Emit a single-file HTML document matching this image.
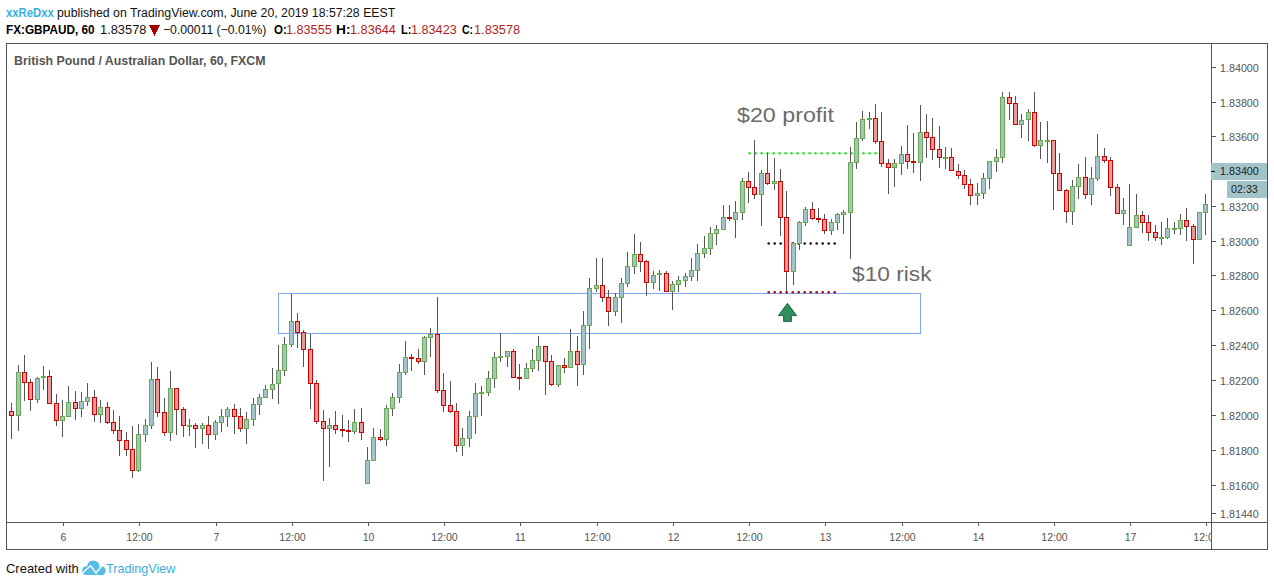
<!DOCTYPE html>
<html><head><meta charset="utf-8"><style>
html,body{margin:0;padding:0;background:#fff;}
body{width:1274px;height:586px;position:relative;overflow:hidden;font-family:"Liberation Sans", sans-serif;}
.t{position:absolute;white-space:nowrap;line-height:1;transform-origin:0 0;}
.tl{position:absolute;width:60px;text-align:center;font-size:10.5px;line-height:1;color:#555;white-space:nowrap;}
#tclip{position:absolute;left:0;top:0;width:1211px;height:586px;overflow:hidden;}
svg{position:absolute;left:0;top:0;}
</style></head><body>
<svg width="1274" height="586" viewBox="0 0 1274 586" shape-rendering="crispEdges">
<rect x="278.5" y="293.5" width="642" height="40" fill="none" stroke="#7aa7ee" stroke-width="1"/>
<g fill="#14ee14" shape-rendering="geometricPrecision"><circle cx="749.55" cy="153.3" r="1.2"/><circle cx="755.55" cy="153.3" r="1.2"/><circle cx="761.55" cy="153.3" r="1.2"/><circle cx="767.55" cy="153.3" r="1.2"/><circle cx="773.55" cy="153.3" r="1.2"/><circle cx="779.55" cy="153.3" r="1.2"/><circle cx="785.55" cy="153.3" r="1.2"/><circle cx="791.55" cy="153.3" r="1.2"/><circle cx="797.55" cy="153.3" r="1.2"/><circle cx="803.55" cy="153.3" r="1.2"/><circle cx="809.55" cy="153.3" r="1.2"/><circle cx="815.55" cy="153.3" r="1.2"/><circle cx="821.55" cy="153.3" r="1.2"/><circle cx="827.55" cy="153.3" r="1.2"/><circle cx="833.55" cy="153.3" r="1.2"/><circle cx="839.55" cy="153.3" r="1.2"/><circle cx="845.55" cy="153.3" r="1.2"/><circle cx="851.55" cy="153.3" r="1.2"/><circle cx="857.55" cy="153.3" r="1.2"/><circle cx="863.55" cy="153.3" r="1.2"/><circle cx="869.55" cy="153.3" r="1.2"/><circle cx="875.55" cy="153.3" r="1.2"/></g>
<g fill="#111111" shape-rendering="geometricPrecision"><circle cx="768.70" cy="243.5" r="1.3"/><circle cx="774.70" cy="243.5" r="1.3"/><circle cx="780.70" cy="243.5" r="1.3"/><circle cx="786.70" cy="243.5" r="1.3"/><circle cx="792.70" cy="243.5" r="1.3"/><circle cx="798.70" cy="243.5" r="1.3"/><circle cx="804.70" cy="243.5" r="1.3"/><circle cx="810.70" cy="243.5" r="1.3"/><circle cx="816.70" cy="243.5" r="1.3"/><circle cx="822.70" cy="243.5" r="1.3"/><circle cx="828.70" cy="243.5" r="1.3"/><circle cx="834.70" cy="243.5" r="1.3"/></g>
<g fill="#555555"><rect x="11" y="403" width="1" height="36"/><rect x="18" y="365" width="1" height="66"/><rect x="24" y="355" width="1" height="46"/><rect x="30" y="379" width="1" height="32"/><rect x="37" y="377" width="1" height="26"/><rect x="43" y="366" width="1" height="24"/><rect x="49" y="370" width="1" height="34"/><rect x="56" y="394" width="1" height="32"/><rect x="62" y="400" width="1" height="37"/><rect x="68" y="386" width="1" height="31"/><rect x="75" y="391" width="1" height="29"/><rect x="81" y="392" width="1" height="25"/><rect x="87" y="383" width="1" height="23"/><rect x="94" y="390" width="1" height="32"/><rect x="100" y="400" width="1" height="23"/><rect x="107" y="402" width="1" height="22"/><rect x="113" y="410" width="1" height="24"/><rect x="119" y="416" width="1" height="40"/><rect x="126" y="432" width="1" height="24"/><rect x="132" y="426" width="1" height="52"/><rect x="138" y="424" width="1" height="48"/><rect x="145" y="419" width="1" height="23"/><rect x="151" y="362" width="1" height="67"/><rect x="157" y="367" width="1" height="50"/><rect x="164" y="398" width="1" height="38"/><rect x="170" y="371" width="1" height="70"/><rect x="176" y="388" width="1" height="47"/><rect x="183" y="407" width="1" height="30"/><rect x="189" y="419" width="1" height="17"/><rect x="195" y="423" width="1" height="25"/><rect x="202" y="423" width="1" height="21"/><rect x="208" y="416" width="1" height="33"/><rect x="215" y="420" width="1" height="20"/><rect x="221" y="409" width="1" height="23"/><rect x="227" y="407" width="1" height="20"/><rect x="234" y="404" width="1" height="30"/><rect x="240" y="408" width="1" height="24"/><rect x="246" y="412" width="1" height="32"/><rect x="253" y="398" width="1" height="28"/><rect x="259" y="394" width="1" height="21"/><rect x="265" y="385" width="1" height="13"/><rect x="272" y="368" width="1" height="31"/><rect x="278" y="345" width="1" height="59"/><rect x="284" y="337" width="1" height="39"/><rect x="291" y="294" width="1" height="53"/><rect x="297" y="313" width="1" height="35"/><rect x="303" y="330" width="1" height="37"/><rect x="310" y="334" width="1" height="75"/><rect x="316" y="380" width="1" height="44"/><rect x="323" y="410" width="1" height="71"/><rect x="329" y="418" width="1" height="49"/><rect x="335" y="411" width="1" height="23"/><rect x="342" y="415" width="1" height="22"/><rect x="348" y="420" width="1" height="22"/><rect x="354" y="409" width="1" height="25"/><rect x="361" y="408" width="1" height="32"/><rect x="367" y="447" width="1" height="37"/><rect x="373" y="428" width="1" height="33"/><rect x="380" y="429" width="1" height="12"/><rect x="386" y="405" width="1" height="41"/><rect x="392" y="393" width="1" height="23"/><rect x="399" y="364" width="1" height="39"/><rect x="405" y="341" width="1" height="34"/><rect x="411" y="354" width="1" height="17"/><rect x="418" y="349" width="1" height="15"/><rect x="424" y="336" width="1" height="39"/><rect x="430" y="328" width="1" height="29"/><rect x="437" y="297" width="1" height="96"/><rect x="443" y="373" width="1" height="39"/><rect x="450" y="381" width="1" height="32"/><rect x="456" y="403" width="1" height="49"/><rect x="462" y="428" width="1" height="28"/><rect x="469" y="411" width="1" height="36"/><rect x="475" y="383" width="1" height="51"/><rect x="481" y="386" width="1" height="30"/><rect x="488" y="371" width="1" height="25"/><rect x="494" y="352" width="1" height="36"/><rect x="500" y="333" width="1" height="29"/><rect x="507" y="351" width="1" height="16"/><rect x="513" y="349" width="1" height="29"/><rect x="519" y="364" width="1" height="26"/><rect x="526" y="363" width="1" height="16"/><rect x="532" y="349" width="1" height="23"/><rect x="538" y="336" width="1" height="35"/><rect x="545" y="346" width="1" height="49"/><rect x="551" y="355" width="1" height="31"/><rect x="558" y="365" width="1" height="22"/><rect x="564" y="358" width="1" height="15"/><rect x="570" y="329" width="1" height="39"/><rect x="577" y="336" width="1" height="50"/><rect x="583" y="311" width="1" height="64"/><rect x="589" y="278" width="1" height="71"/><rect x="596" y="258" width="1" height="34"/><rect x="602" y="258" width="1" height="44"/><rect x="608" y="290" width="1" height="36"/><rect x="615" y="293" width="1" height="23"/><rect x="621" y="278" width="1" height="45"/><rect x="627" y="252" width="1" height="35"/><rect x="634" y="234" width="1" height="40"/><rect x="640" y="242" width="1" height="30"/><rect x="646" y="260" width="1" height="36"/><rect x="653" y="271" width="1" height="18"/><rect x="659" y="270" width="1" height="21"/><rect x="666" y="271" width="1" height="21"/><rect x="672" y="281" width="1" height="29"/><rect x="678" y="276" width="1" height="16"/><rect x="685" y="273" width="1" height="14"/><rect x="691" y="258" width="1" height="23"/><rect x="697" y="244" width="1" height="37"/><rect x="704" y="236" width="1" height="22"/><rect x="710" y="227" width="1" height="28"/><rect x="716" y="225" width="1" height="20"/><rect x="723" y="205" width="1" height="25"/><rect x="729" y="205" width="1" height="16"/><rect x="735" y="201" width="1" height="37"/><rect x="742" y="178" width="1" height="42"/><rect x="748" y="172" width="1" height="31"/><rect x="754" y="140" width="1" height="59"/><rect x="761" y="170" width="1" height="56"/><rect x="767" y="153" width="1" height="32"/><rect x="774" y="158" width="1" height="32"/><rect x="780" y="169" width="1" height="67"/><rect x="786" y="191" width="1" height="102"/><rect x="793" y="242" width="1" height="43"/><rect x="799" y="221" width="1" height="29"/><rect x="805" y="207" width="1" height="19"/><rect x="812" y="202" width="1" height="18"/><rect x="818" y="208" width="1" height="15"/><rect x="824" y="214" width="1" height="20"/><rect x="831" y="219" width="1" height="16"/><rect x="837" y="213" width="1" height="17"/><rect x="843" y="210" width="1" height="24"/><rect x="850" y="147" width="1" height="112"/><rect x="856" y="122" width="1" height="47"/><rect x="862" y="111" width="1" height="30"/><rect x="869" y="112" width="1" height="17"/><rect x="875" y="104" width="1" height="40"/><rect x="881" y="112" width="1" height="55"/><rect x="888" y="159" width="1" height="35"/><rect x="894" y="159" width="1" height="28"/><rect x="901" y="146" width="1" height="29"/><rect x="907" y="125" width="1" height="44"/><rect x="913" y="133" width="1" height="40"/><rect x="920" y="105" width="1" height="76"/><rect x="926" y="114" width="1" height="44"/><rect x="932" y="118" width="1" height="42"/><rect x="939" y="126" width="1" height="42"/><rect x="945" y="147" width="1" height="22"/><rect x="951" y="148" width="1" height="23"/><rect x="958" y="164" width="1" height="15"/><rect x="964" y="170" width="1" height="19"/><rect x="970" y="179" width="1" height="26"/><rect x="977" y="183" width="1" height="22"/><rect x="983" y="173" width="1" height="26"/><rect x="989" y="161" width="1" height="28"/><rect x="996" y="149" width="1" height="23"/><rect x="1002" y="92" width="1" height="71"/><rect x="1009" y="92" width="1" height="28"/><rect x="1015" y="96" width="1" height="29"/><rect x="1021" y="114" width="1" height="24"/><rect x="1028" y="109" width="1" height="32"/><rect x="1034" y="92" width="1" height="55"/><rect x="1040" y="122" width="1" height="37"/><rect x="1047" y="121" width="1" height="42"/><rect x="1053" y="140" width="1" height="70"/><rect x="1059" y="153" width="1" height="38"/><rect x="1066" y="189" width="1" height="34"/><rect x="1072" y="180" width="1" height="45"/><rect x="1078" y="164" width="1" height="35"/><rect x="1085" y="157" width="1" height="42"/><rect x="1091" y="167" width="1" height="38"/><rect x="1097" y="134" width="1" height="47"/><rect x="1104" y="148" width="1" height="15"/><rect x="1110" y="157" width="1" height="39"/><rect x="1117" y="184" width="1" height="30"/><rect x="1123" y="198" width="1" height="27"/><rect x="1129" y="184" width="1" height="62"/><rect x="1136" y="194" width="1" height="34"/><rect x="1142" y="211" width="1" height="22"/><rect x="1148" y="215" width="1" height="26"/><rect x="1155" y="225" width="1" height="16"/><rect x="1161" y="222" width="1" height="23"/><rect x="1167" y="218" width="1" height="21"/><rect x="1174" y="222" width="1" height="12"/><rect x="1180" y="214" width="1" height="21"/><rect x="1186" y="208" width="1" height="33"/><rect x="1193" y="224" width="1" height="40"/><rect x="1199" y="212" width="1" height="28"/><rect x="1205" y="194" width="1" height="41"/></g>
<rect x="9" y="411" width="5" height="5" fill="#cc0000"/>
<rect x="10" y="412" width="3" height="3" fill="#ea9999"/>
<rect x="16" y="372" width="5" height="44" fill="#6aa84f"/>
<rect x="17" y="373" width="3" height="42" fill="#a2c4c9"/>
<rect x="22" y="372" width="5" height="11" fill="#cc0000"/>
<rect x="23" y="373" width="3" height="9" fill="#ea9999"/>
<rect x="28" y="382" width="5" height="18" fill="#cc0000"/>
<rect x="29" y="383" width="3" height="16" fill="#ea9999"/>
<rect x="35" y="378" width="5" height="22" fill="#6aa84f"/>
<rect x="36" y="379" width="3" height="20" fill="#a2c4c9"/>
<rect x="41" y="376" width="5" height="2" fill="#6aa84f"/>
<rect x="47" y="376" width="5" height="28" fill="#cc0000"/>
<rect x="48" y="377" width="3" height="26" fill="#ea9999"/>
<rect x="54" y="403" width="5" height="18" fill="#cc0000"/>
<rect x="55" y="404" width="3" height="16" fill="#ea9999"/>
<rect x="60" y="416" width="5" height="5" fill="#6aa84f"/>
<rect x="61" y="417" width="3" height="3" fill="#a2c4c9"/>
<rect x="66" y="402" width="5" height="15" fill="#6aa84f"/>
<rect x="67" y="403" width="3" height="13" fill="#a2c4c9"/>
<rect x="73" y="402" width="5" height="7" fill="#cc0000"/>
<rect x="74" y="403" width="3" height="5" fill="#ea9999"/>
<rect x="79" y="401" width="5" height="8" fill="#6aa84f"/>
<rect x="80" y="402" width="3" height="6" fill="#a2c4c9"/>
<rect x="85" y="397" width="5" height="5" fill="#6aa84f"/>
<rect x="86" y="398" width="3" height="3" fill="#a2c4c9"/>
<rect x="92" y="397" width="5" height="18" fill="#cc0000"/>
<rect x="93" y="398" width="3" height="16" fill="#ea9999"/>
<rect x="98" y="407" width="5" height="8" fill="#6aa84f"/>
<rect x="99" y="408" width="3" height="6" fill="#a2c4c9"/>
<rect x="105" y="407" width="5" height="16" fill="#cc0000"/>
<rect x="106" y="408" width="3" height="14" fill="#ea9999"/>
<rect x="111" y="422" width="5" height="9" fill="#cc0000"/>
<rect x="112" y="423" width="3" height="7" fill="#ea9999"/>
<rect x="117" y="430" width="5" height="11" fill="#cc0000"/>
<rect x="118" y="431" width="3" height="9" fill="#ea9999"/>
<rect x="124" y="440" width="5" height="10" fill="#cc0000"/>
<rect x="125" y="441" width="3" height="8" fill="#ea9999"/>
<rect x="130" y="449" width="5" height="22" fill="#cc0000"/>
<rect x="131" y="450" width="3" height="20" fill="#ea9999"/>
<rect x="136" y="434" width="5" height="37" fill="#6aa84f"/>
<rect x="137" y="435" width="3" height="35" fill="#a2c4c9"/>
<rect x="143" y="425" width="5" height="10" fill="#6aa84f"/>
<rect x="144" y="426" width="3" height="8" fill="#a2c4c9"/>
<rect x="149" y="379" width="5" height="47" fill="#6aa84f"/>
<rect x="150" y="380" width="3" height="45" fill="#a2c4c9"/>
<rect x="155" y="379" width="5" height="34" fill="#cc0000"/>
<rect x="156" y="380" width="3" height="32" fill="#ea9999"/>
<rect x="162" y="412" width="5" height="21" fill="#cc0000"/>
<rect x="163" y="413" width="3" height="19" fill="#ea9999"/>
<rect x="168" y="388" width="5" height="45" fill="#6aa84f"/>
<rect x="169" y="389" width="3" height="43" fill="#a2c4c9"/>
<rect x="174" y="388" width="5" height="22" fill="#cc0000"/>
<rect x="175" y="389" width="3" height="20" fill="#ea9999"/>
<rect x="181" y="409" width="5" height="17" fill="#cc0000"/>
<rect x="182" y="410" width="3" height="15" fill="#ea9999"/>
<rect x="187" y="425" width="5" height="2" fill="#6aa84f"/>
<rect x="193" y="425" width="5" height="4" fill="#cc0000"/>
<rect x="194" y="426" width="3" height="2" fill="#ea9999"/>
<rect x="200" y="425" width="5" height="4" fill="#6aa84f"/>
<rect x="201" y="426" width="3" height="2" fill="#a2c4c9"/>
<rect x="206" y="425" width="5" height="10" fill="#cc0000"/>
<rect x="207" y="426" width="3" height="8" fill="#ea9999"/>
<rect x="213" y="422" width="5" height="13" fill="#6aa84f"/>
<rect x="214" y="423" width="3" height="11" fill="#a2c4c9"/>
<rect x="219" y="416" width="5" height="7" fill="#6aa84f"/>
<rect x="220" y="417" width="3" height="5" fill="#a2c4c9"/>
<rect x="225" y="409" width="5" height="8" fill="#6aa84f"/>
<rect x="226" y="410" width="3" height="6" fill="#a2c4c9"/>
<rect x="232" y="409" width="5" height="8" fill="#cc0000"/>
<rect x="233" y="410" width="3" height="6" fill="#ea9999"/>
<rect x="238" y="416" width="5" height="13" fill="#cc0000"/>
<rect x="239" y="417" width="3" height="11" fill="#ea9999"/>
<rect x="244" y="419" width="5" height="10" fill="#6aa84f"/>
<rect x="245" y="420" width="3" height="8" fill="#a2c4c9"/>
<rect x="251" y="404" width="5" height="16" fill="#6aa84f"/>
<rect x="252" y="405" width="3" height="14" fill="#a2c4c9"/>
<rect x="257" y="397" width="5" height="8" fill="#6aa84f"/>
<rect x="258" y="398" width="3" height="6" fill="#a2c4c9"/>
<rect x="263" y="389" width="5" height="9" fill="#6aa84f"/>
<rect x="264" y="390" width="3" height="7" fill="#a2c4c9"/>
<rect x="270" y="384" width="5" height="6" fill="#6aa84f"/>
<rect x="271" y="385" width="3" height="4" fill="#a2c4c9"/>
<rect x="276" y="370" width="5" height="14" fill="#6aa84f"/>
<rect x="277" y="371" width="3" height="12" fill="#a2c4c9"/>
<rect x="282" y="344" width="5" height="27" fill="#6aa84f"/>
<rect x="283" y="345" width="3" height="25" fill="#a2c4c9"/>
<rect x="289" y="321" width="5" height="24" fill="#6aa84f"/>
<rect x="290" y="322" width="3" height="22" fill="#a2c4c9"/>
<rect x="295" y="321" width="5" height="12" fill="#cc0000"/>
<rect x="296" y="322" width="3" height="10" fill="#ea9999"/>
<rect x="301" y="332" width="5" height="18" fill="#cc0000"/>
<rect x="302" y="333" width="3" height="16" fill="#ea9999"/>
<rect x="308" y="349" width="5" height="35" fill="#cc0000"/>
<rect x="309" y="350" width="3" height="33" fill="#ea9999"/>
<rect x="314" y="383" width="5" height="39" fill="#cc0000"/>
<rect x="315" y="384" width="3" height="37" fill="#ea9999"/>
<rect x="321" y="421" width="5" height="8" fill="#cc0000"/>
<rect x="322" y="422" width="3" height="6" fill="#ea9999"/>
<rect x="327" y="425" width="5" height="4" fill="#6aa84f"/>
<rect x="328" y="426" width="3" height="2" fill="#a2c4c9"/>
<rect x="333" y="425" width="5" height="5" fill="#cc0000"/>
<rect x="334" y="426" width="3" height="3" fill="#ea9999"/>
<rect x="340" y="429" width="5" height="2" fill="#cc0000"/>
<rect x="346" y="430" width="5" height="2" fill="#cc0000"/>
<rect x="352" y="422" width="5" height="10" fill="#6aa84f"/>
<rect x="353" y="423" width="3" height="8" fill="#a2c4c9"/>
<rect x="359" y="422" width="5" height="11" fill="#cc0000"/>
<rect x="360" y="423" width="3" height="9" fill="#ea9999"/>
<rect x="365" y="460" width="5" height="24" fill="#6aa84f"/>
<rect x="366" y="461" width="3" height="22" fill="#a2c4c9"/>
<rect x="371" y="437" width="5" height="24" fill="#6aa84f"/>
<rect x="372" y="438" width="3" height="22" fill="#a2c4c9"/>
<rect x="378" y="437" width="5" height="3" fill="#cc0000"/>
<rect x="379" y="438" width="3" height="1" fill="#ea9999"/>
<rect x="384" y="408" width="5" height="32" fill="#6aa84f"/>
<rect x="385" y="409" width="3" height="30" fill="#a2c4c9"/>
<rect x="390" y="397" width="5" height="12" fill="#6aa84f"/>
<rect x="391" y="398" width="3" height="10" fill="#a2c4c9"/>
<rect x="397" y="372" width="5" height="26" fill="#6aa84f"/>
<rect x="398" y="373" width="3" height="24" fill="#a2c4c9"/>
<rect x="403" y="357" width="5" height="16" fill="#6aa84f"/>
<rect x="404" y="358" width="3" height="14" fill="#a2c4c9"/>
<rect x="409" y="357" width="5" height="2" fill="#cc0000"/>
<rect x="416" y="358" width="5" height="4" fill="#cc0000"/>
<rect x="417" y="359" width="3" height="2" fill="#ea9999"/>
<rect x="422" y="337" width="5" height="25" fill="#6aa84f"/>
<rect x="423" y="338" width="3" height="23" fill="#a2c4c9"/>
<rect x="428" y="334" width="5" height="4" fill="#6aa84f"/>
<rect x="429" y="335" width="3" height="2" fill="#a2c4c9"/>
<rect x="435" y="334" width="5" height="57" fill="#cc0000"/>
<rect x="436" y="335" width="3" height="55" fill="#ea9999"/>
<rect x="441" y="390" width="5" height="16" fill="#cc0000"/>
<rect x="442" y="391" width="3" height="14" fill="#ea9999"/>
<rect x="448" y="405" width="5" height="7" fill="#cc0000"/>
<rect x="449" y="406" width="3" height="5" fill="#ea9999"/>
<rect x="454" y="411" width="5" height="35" fill="#cc0000"/>
<rect x="455" y="412" width="3" height="33" fill="#ea9999"/>
<rect x="460" y="438" width="5" height="8" fill="#6aa84f"/>
<rect x="461" y="439" width="3" height="6" fill="#a2c4c9"/>
<rect x="467" y="416" width="5" height="23" fill="#6aa84f"/>
<rect x="468" y="417" width="3" height="21" fill="#a2c4c9"/>
<rect x="473" y="393" width="5" height="24" fill="#6aa84f"/>
<rect x="474" y="394" width="3" height="22" fill="#a2c4c9"/>
<rect x="479" y="392" width="5" height="2" fill="#6aa84f"/>
<rect x="486" y="378" width="5" height="15" fill="#6aa84f"/>
<rect x="487" y="379" width="3" height="13" fill="#a2c4c9"/>
<rect x="492" y="357" width="5" height="22" fill="#6aa84f"/>
<rect x="493" y="358" width="3" height="20" fill="#a2c4c9"/>
<rect x="498" y="356" width="5" height="2" fill="#6aa84f"/>
<rect x="505" y="351" width="5" height="6" fill="#6aa84f"/>
<rect x="506" y="352" width="3" height="4" fill="#a2c4c9"/>
<rect x="511" y="351" width="5" height="27" fill="#cc0000"/>
<rect x="512" y="352" width="3" height="25" fill="#ea9999"/>
<rect x="517" y="377" width="5" height="2" fill="#cc0000"/>
<rect x="524" y="368" width="5" height="11" fill="#6aa84f"/>
<rect x="525" y="369" width="3" height="9" fill="#a2c4c9"/>
<rect x="530" y="360" width="5" height="9" fill="#6aa84f"/>
<rect x="531" y="361" width="3" height="7" fill="#a2c4c9"/>
<rect x="536" y="346" width="5" height="15" fill="#6aa84f"/>
<rect x="537" y="347" width="3" height="13" fill="#a2c4c9"/>
<rect x="543" y="346" width="5" height="16" fill="#cc0000"/>
<rect x="544" y="347" width="3" height="14" fill="#ea9999"/>
<rect x="549" y="361" width="5" height="24" fill="#cc0000"/>
<rect x="550" y="362" width="3" height="22" fill="#ea9999"/>
<rect x="556" y="365" width="5" height="20" fill="#6aa84f"/>
<rect x="557" y="366" width="3" height="18" fill="#a2c4c9"/>
<rect x="562" y="365" width="5" height="3" fill="#cc0000"/>
<rect x="563" y="366" width="3" height="1" fill="#ea9999"/>
<rect x="568" y="351" width="5" height="17" fill="#6aa84f"/>
<rect x="569" y="352" width="3" height="15" fill="#a2c4c9"/>
<rect x="575" y="351" width="5" height="14" fill="#cc0000"/>
<rect x="576" y="352" width="3" height="12" fill="#ea9999"/>
<rect x="581" y="325" width="5" height="40" fill="#6aa84f"/>
<rect x="582" y="326" width="3" height="38" fill="#a2c4c9"/>
<rect x="587" y="288" width="5" height="38" fill="#6aa84f"/>
<rect x="588" y="289" width="3" height="36" fill="#a2c4c9"/>
<rect x="594" y="285" width="5" height="4" fill="#6aa84f"/>
<rect x="595" y="286" width="3" height="2" fill="#a2c4c9"/>
<rect x="600" y="285" width="5" height="13" fill="#cc0000"/>
<rect x="601" y="286" width="3" height="11" fill="#ea9999"/>
<rect x="606" y="297" width="5" height="15" fill="#cc0000"/>
<rect x="607" y="298" width="3" height="13" fill="#ea9999"/>
<rect x="613" y="297" width="5" height="15" fill="#6aa84f"/>
<rect x="614" y="298" width="3" height="13" fill="#a2c4c9"/>
<rect x="619" y="283" width="5" height="15" fill="#6aa84f"/>
<rect x="620" y="284" width="3" height="13" fill="#a2c4c9"/>
<rect x="625" y="266" width="5" height="18" fill="#6aa84f"/>
<rect x="626" y="267" width="3" height="16" fill="#a2c4c9"/>
<rect x="632" y="254" width="5" height="13" fill="#6aa84f"/>
<rect x="633" y="255" width="3" height="11" fill="#a2c4c9"/>
<rect x="638" y="254" width="5" height="8" fill="#cc0000"/>
<rect x="639" y="255" width="3" height="6" fill="#ea9999"/>
<rect x="644" y="261" width="5" height="22" fill="#cc0000"/>
<rect x="645" y="262" width="3" height="20" fill="#ea9999"/>
<rect x="651" y="275" width="5" height="8" fill="#6aa84f"/>
<rect x="652" y="276" width="3" height="6" fill="#a2c4c9"/>
<rect x="657" y="273" width="5" height="2" fill="#6aa84f"/>
<rect x="664" y="273" width="5" height="19" fill="#cc0000"/>
<rect x="665" y="274" width="3" height="17" fill="#ea9999"/>
<rect x="670" y="284" width="5" height="8" fill="#6aa84f"/>
<rect x="671" y="285" width="3" height="6" fill="#a2c4c9"/>
<rect x="676" y="280" width="5" height="5" fill="#6aa84f"/>
<rect x="677" y="281" width="3" height="3" fill="#a2c4c9"/>
<rect x="683" y="276" width="5" height="5" fill="#6aa84f"/>
<rect x="684" y="277" width="3" height="3" fill="#a2c4c9"/>
<rect x="689" y="270" width="5" height="7" fill="#6aa84f"/>
<rect x="690" y="271" width="3" height="5" fill="#a2c4c9"/>
<rect x="695" y="253" width="5" height="18" fill="#6aa84f"/>
<rect x="696" y="254" width="3" height="16" fill="#a2c4c9"/>
<rect x="702" y="248" width="5" height="6" fill="#6aa84f"/>
<rect x="703" y="249" width="3" height="4" fill="#a2c4c9"/>
<rect x="708" y="233" width="5" height="16" fill="#6aa84f"/>
<rect x="709" y="234" width="3" height="14" fill="#a2c4c9"/>
<rect x="714" y="229" width="5" height="5" fill="#6aa84f"/>
<rect x="715" y="230" width="3" height="3" fill="#a2c4c9"/>
<rect x="721" y="217" width="5" height="13" fill="#6aa84f"/>
<rect x="722" y="218" width="3" height="11" fill="#a2c4c9"/>
<rect x="727" y="217" width="5" height="2" fill="#cc0000"/>
<rect x="733" y="212" width="5" height="8" fill="#6aa84f"/>
<rect x="734" y="213" width="3" height="6" fill="#a2c4c9"/>
<rect x="740" y="181" width="5" height="32" fill="#6aa84f"/>
<rect x="741" y="182" width="3" height="30" fill="#a2c4c9"/>
<rect x="746" y="181" width="5" height="7" fill="#cc0000"/>
<rect x="747" y="182" width="3" height="5" fill="#ea9999"/>
<rect x="752" y="187" width="5" height="8" fill="#cc0000"/>
<rect x="753" y="188" width="3" height="6" fill="#ea9999"/>
<rect x="759" y="173" width="5" height="22" fill="#6aa84f"/>
<rect x="760" y="174" width="3" height="20" fill="#a2c4c9"/>
<rect x="765" y="173" width="5" height="11" fill="#cc0000"/>
<rect x="766" y="174" width="3" height="9" fill="#ea9999"/>
<rect x="772" y="181" width="5" height="3" fill="#6aa84f"/>
<rect x="773" y="182" width="3" height="1" fill="#a2c4c9"/>
<rect x="778" y="181" width="5" height="37" fill="#cc0000"/>
<rect x="779" y="182" width="3" height="35" fill="#ea9999"/>
<rect x="784" y="217" width="5" height="55" fill="#cc0000"/>
<rect x="785" y="218" width="3" height="53" fill="#ea9999"/>
<rect x="791" y="243" width="5" height="29" fill="#6aa84f"/>
<rect x="792" y="244" width="3" height="27" fill="#a2c4c9"/>
<rect x="797" y="222" width="5" height="22" fill="#6aa84f"/>
<rect x="798" y="223" width="3" height="20" fill="#a2c4c9"/>
<rect x="803" y="209" width="5" height="14" fill="#6aa84f"/>
<rect x="804" y="210" width="3" height="12" fill="#a2c4c9"/>
<rect x="810" y="209" width="5" height="10" fill="#cc0000"/>
<rect x="811" y="210" width="3" height="8" fill="#ea9999"/>
<rect x="816" y="218" width="5" height="2" fill="#cc0000"/>
<rect x="822" y="219" width="5" height="12" fill="#cc0000"/>
<rect x="823" y="220" width="3" height="10" fill="#ea9999"/>
<rect x="829" y="222" width="5" height="9" fill="#6aa84f"/>
<rect x="830" y="223" width="3" height="7" fill="#a2c4c9"/>
<rect x="835" y="214" width="5" height="9" fill="#6aa84f"/>
<rect x="836" y="215" width="3" height="7" fill="#a2c4c9"/>
<rect x="841" y="212" width="5" height="3" fill="#6aa84f"/>
<rect x="842" y="213" width="3" height="1" fill="#a2c4c9"/>
<rect x="848" y="162" width="5" height="51" fill="#6aa84f"/>
<rect x="849" y="163" width="3" height="49" fill="#a2c4c9"/>
<rect x="854" y="138" width="5" height="25" fill="#6aa84f"/>
<rect x="855" y="139" width="3" height="23" fill="#a2c4c9"/>
<rect x="860" y="119" width="5" height="20" fill="#6aa84f"/>
<rect x="861" y="120" width="3" height="18" fill="#a2c4c9"/>
<rect x="867" y="118" width="5" height="2" fill="#6aa84f"/>
<rect x="873" y="118" width="5" height="24" fill="#cc0000"/>
<rect x="874" y="119" width="3" height="22" fill="#ea9999"/>
<rect x="879" y="141" width="5" height="23" fill="#cc0000"/>
<rect x="880" y="142" width="3" height="21" fill="#ea9999"/>
<rect x="886" y="163" width="5" height="5" fill="#cc0000"/>
<rect x="887" y="164" width="3" height="3" fill="#ea9999"/>
<rect x="892" y="163" width="5" height="5" fill="#6aa84f"/>
<rect x="893" y="164" width="3" height="3" fill="#a2c4c9"/>
<rect x="899" y="154" width="5" height="10" fill="#6aa84f"/>
<rect x="900" y="155" width="3" height="8" fill="#a2c4c9"/>
<rect x="905" y="154" width="5" height="8" fill="#cc0000"/>
<rect x="906" y="155" width="3" height="6" fill="#ea9999"/>
<rect x="911" y="161" width="5" height="2" fill="#cc0000"/>
<rect x="918" y="132" width="5" height="31" fill="#6aa84f"/>
<rect x="919" y="133" width="3" height="29" fill="#a2c4c9"/>
<rect x="924" y="132" width="5" height="6" fill="#cc0000"/>
<rect x="925" y="133" width="3" height="4" fill="#ea9999"/>
<rect x="930" y="137" width="5" height="13" fill="#cc0000"/>
<rect x="931" y="138" width="3" height="11" fill="#ea9999"/>
<rect x="937" y="149" width="5" height="9" fill="#cc0000"/>
<rect x="938" y="150" width="3" height="7" fill="#ea9999"/>
<rect x="943" y="157" width="5" height="2" fill="#6aa84f"/>
<rect x="949" y="157" width="5" height="14" fill="#cc0000"/>
<rect x="950" y="158" width="3" height="12" fill="#ea9999"/>
<rect x="956" y="171" width="5" height="5" fill="#cc0000"/>
<rect x="957" y="172" width="3" height="3" fill="#ea9999"/>
<rect x="962" y="175" width="5" height="10" fill="#cc0000"/>
<rect x="963" y="176" width="3" height="8" fill="#ea9999"/>
<rect x="968" y="184" width="5" height="12" fill="#cc0000"/>
<rect x="969" y="185" width="3" height="10" fill="#ea9999"/>
<rect x="975" y="193" width="5" height="3" fill="#6aa84f"/>
<rect x="976" y="194" width="3" height="1" fill="#a2c4c9"/>
<rect x="981" y="178" width="5" height="16" fill="#6aa84f"/>
<rect x="982" y="179" width="3" height="14" fill="#a2c4c9"/>
<rect x="987" y="161" width="5" height="18" fill="#6aa84f"/>
<rect x="988" y="162" width="3" height="16" fill="#a2c4c9"/>
<rect x="994" y="157" width="5" height="5" fill="#6aa84f"/>
<rect x="995" y="158" width="3" height="3" fill="#a2c4c9"/>
<rect x="1000" y="97" width="5" height="61" fill="#6aa84f"/>
<rect x="1001" y="98" width="3" height="59" fill="#a2c4c9"/>
<rect x="1007" y="97" width="5" height="7" fill="#cc0000"/>
<rect x="1008" y="98" width="3" height="5" fill="#ea9999"/>
<rect x="1013" y="103" width="5" height="22" fill="#cc0000"/>
<rect x="1014" y="104" width="3" height="20" fill="#ea9999"/>
<rect x="1019" y="120" width="5" height="5" fill="#6aa84f"/>
<rect x="1020" y="121" width="3" height="3" fill="#a2c4c9"/>
<rect x="1026" y="112" width="5" height="8" fill="#6aa84f"/>
<rect x="1027" y="113" width="3" height="6" fill="#a2c4c9"/>
<rect x="1032" y="112" width="5" height="34" fill="#cc0000"/>
<rect x="1033" y="113" width="3" height="32" fill="#ea9999"/>
<rect x="1038" y="140" width="5" height="6" fill="#6aa84f"/>
<rect x="1039" y="141" width="3" height="4" fill="#a2c4c9"/>
<rect x="1045" y="140" width="5" height="2" fill="#6aa84f"/>
<rect x="1051" y="140" width="5" height="34" fill="#cc0000"/>
<rect x="1052" y="141" width="3" height="32" fill="#ea9999"/>
<rect x="1057" y="173" width="5" height="18" fill="#cc0000"/>
<rect x="1058" y="174" width="3" height="16" fill="#ea9999"/>
<rect x="1064" y="190" width="5" height="22" fill="#cc0000"/>
<rect x="1065" y="191" width="3" height="20" fill="#ea9999"/>
<rect x="1070" y="186" width="5" height="26" fill="#6aa84f"/>
<rect x="1071" y="187" width="3" height="24" fill="#a2c4c9"/>
<rect x="1076" y="177" width="5" height="10" fill="#6aa84f"/>
<rect x="1077" y="178" width="3" height="8" fill="#a2c4c9"/>
<rect x="1083" y="177" width="5" height="18" fill="#cc0000"/>
<rect x="1084" y="178" width="3" height="16" fill="#ea9999"/>
<rect x="1089" y="178" width="5" height="17" fill="#6aa84f"/>
<rect x="1090" y="179" width="3" height="15" fill="#a2c4c9"/>
<rect x="1095" y="156" width="5" height="23" fill="#6aa84f"/>
<rect x="1096" y="157" width="3" height="21" fill="#a2c4c9"/>
<rect x="1102" y="156" width="5" height="5" fill="#cc0000"/>
<rect x="1103" y="157" width="3" height="3" fill="#ea9999"/>
<rect x="1108" y="160" width="5" height="28" fill="#cc0000"/>
<rect x="1109" y="161" width="3" height="26" fill="#ea9999"/>
<rect x="1115" y="187" width="5" height="27" fill="#cc0000"/>
<rect x="1116" y="188" width="3" height="25" fill="#ea9999"/>
<rect x="1121" y="210" width="5" height="4" fill="#6aa84f"/>
<rect x="1122" y="211" width="3" height="2" fill="#a2c4c9"/>
<rect x="1127" y="227" width="5" height="19" fill="#6aa84f"/>
<rect x="1128" y="228" width="3" height="17" fill="#a2c4c9"/>
<rect x="1134" y="215" width="5" height="13" fill="#6aa84f"/>
<rect x="1135" y="216" width="3" height="11" fill="#a2c4c9"/>
<rect x="1140" y="215" width="5" height="8" fill="#cc0000"/>
<rect x="1141" y="216" width="3" height="6" fill="#ea9999"/>
<rect x="1146" y="222" width="5" height="11" fill="#cc0000"/>
<rect x="1147" y="223" width="3" height="9" fill="#ea9999"/>
<rect x="1153" y="232" width="5" height="6" fill="#cc0000"/>
<rect x="1154" y="233" width="3" height="4" fill="#ea9999"/>
<rect x="1159" y="237" width="5" height="2" fill="#6aa84f"/>
<rect x="1165" y="228" width="5" height="10" fill="#6aa84f"/>
<rect x="1166" y="229" width="3" height="8" fill="#a2c4c9"/>
<rect x="1172" y="228" width="5" height="2" fill="#6aa84f"/>
<rect x="1178" y="220" width="5" height="9" fill="#6aa84f"/>
<rect x="1179" y="221" width="3" height="7" fill="#a2c4c9"/>
<rect x="1184" y="220" width="5" height="7" fill="#cc0000"/>
<rect x="1185" y="221" width="3" height="5" fill="#ea9999"/>
<rect x="1191" y="226" width="5" height="14" fill="#cc0000"/>
<rect x="1192" y="227" width="3" height="12" fill="#ea9999"/>
<rect x="1197" y="212" width="5" height="28" fill="#6aa84f"/>
<rect x="1198" y="213" width="3" height="26" fill="#a2c4c9"/>
<rect x="1203" y="204" width="5" height="9" fill="#6aa84f"/>
<rect x="1204" y="205" width="3" height="7" fill="#a2c4c9"/>
<g fill="#a50d12" shape-rendering="geometricPrecision"><circle cx="768.70" cy="292.3" r="1.3"/><circle cx="774.70" cy="292.3" r="1.3"/><circle cx="780.70" cy="292.3" r="1.3"/><circle cx="786.70" cy="292.3" r="1.3"/><circle cx="792.70" cy="292.3" r="1.3"/><circle cx="798.70" cy="292.3" r="1.3"/><circle cx="804.70" cy="292.3" r="1.3"/><circle cx="810.70" cy="292.3" r="1.3"/><circle cx="816.70" cy="292.3" r="1.3"/><circle cx="822.70" cy="292.3" r="1.3"/><circle cx="828.70" cy="292.3" r="1.3"/><circle cx="834.70" cy="292.3" r="1.3"/></g>
<polygon points="787.5,304.2 796.2,316.3 791.6,316.3 791.6,322.6 783.4,322.6 783.4,316.3 778.8,316.3" fill="#b8a8a8" opacity="0.35" shape-rendering="geometricPrecision"/>
<polygon points="787.5,303.3 796.6,315.6 791.4,315.6 791.4,321.4 783.6,321.4 783.6,315.6 778.4,315.6" fill="#30905b" stroke="#195a33" stroke-width="0.9" stroke-linejoin="miter" shape-rendering="geometricPrecision"/>
<rect x="6" y="43" width="1262" height="1" fill="#555"/>
<rect x="6" y="549" width="1262" height="1" fill="#555"/>
<rect x="6" y="43" width="1" height="507" fill="#555"/>
<rect x="1267" y="43" width="1" height="507" fill="#555"/>
<rect x="6" y="522" width="1262" height="1" fill="#555"/>
<rect x="1211" y="43" width="1" height="507" fill="#555"/>
<rect x="1212" y="67" width="4" height="1" fill="#555"/>
<rect x="1212" y="102" width="4" height="1" fill="#555"/>
<rect x="1212" y="136" width="4" height="1" fill="#555"/>
<rect x="1212" y="171" width="4" height="1" fill="#555"/>
<rect x="1212" y="206" width="4" height="1" fill="#555"/>
<rect x="1212" y="241" width="4" height="1" fill="#555"/>
<rect x="1212" y="275" width="4" height="1" fill="#555"/>
<rect x="1212" y="310" width="4" height="1" fill="#555"/>
<rect x="1212" y="345" width="4" height="1" fill="#555"/>
<rect x="1212" y="380" width="4" height="1" fill="#555"/>
<rect x="1212" y="415" width="4" height="1" fill="#555"/>
<rect x="1212" y="450" width="4" height="1" fill="#555"/>
<rect x="1212" y="485" width="4" height="1" fill="#555"/>
<rect x="1212" y="513" width="4" height="1" fill="#555"/>
<rect x="1211" y="163" width="56" height="17" fill="#a2c4c9"/>
<rect x="1227" y="181" width="40" height="17" fill="#a2c4c9"/>
<rect x="1211" y="171" width="4" height="1" fill="#111"/>
<rect x="63" y="523" width="1" height="3" fill="#555"/>
<rect x="139" y="523" width="1" height="3" fill="#555"/>
<rect x="216" y="523" width="1" height="3" fill="#555"/>
<rect x="292" y="523" width="1" height="3" fill="#555"/>
<rect x="368" y="523" width="1" height="3" fill="#555"/>
<rect x="444" y="523" width="1" height="3" fill="#555"/>
<rect x="520" y="523" width="1" height="3" fill="#555"/>
<rect x="597" y="523" width="1" height="3" fill="#555"/>
<rect x="673" y="523" width="1" height="3" fill="#555"/>
<rect x="749" y="523" width="1" height="3" fill="#555"/>
<rect x="825" y="523" width="1" height="3" fill="#555"/>
<rect x="902" y="523" width="1" height="3" fill="#555"/>
<rect x="978" y="523" width="1" height="3" fill="#555"/>
<rect x="1054" y="523" width="1" height="3" fill="#555"/>
<rect x="1130" y="523" width="1" height="3" fill="#555"/>
<rect x="1206" y="523" width="1" height="3" fill="#555"/>
<polygon points="148.8,25 160.2,25 154.5,36" fill="#a80000"/>
<g transform="translate(82,560.5)" shape-rendering="geometricPrecision">
<g fill="#57bde6"><circle cx="4.3" cy="10" r="4.2"/><circle cx="11.3" cy="6.3" r="6.3"/><circle cx="19.4" cy="10.1" r="4.3"/><rect x="3" y="9" width="17.5" height="5.3" rx="1.5"/><rect x="1.2" y="10" width="21.5" height="4.3" rx="2.2"/></g>
<polyline points="0.4,12.6 8.6,5.3 14,12.5 20.6,4.3" fill="none" stroke="#fff" stroke-width="1.4" stroke-linejoin="miter"/>
</g>
</svg>
<div id="tclip"><div class="tl" style="left:33.50px;top:531.71px;">6</div><div class="tl" style="left:109.50px;top:531.71px;">12:00</div><div class="tl" style="left:186.50px;top:531.71px;">7</div><div class="tl" style="left:262.50px;top:531.71px;">12:00</div><div class="tl" style="left:338.50px;top:531.71px;">10</div><div class="tl" style="left:414.50px;top:531.71px;">12:00</div><div class="tl" style="left:490.50px;top:531.71px;">11</div><div class="tl" style="left:567.50px;top:531.71px;">12:00</div><div class="tl" style="left:643.50px;top:531.71px;">12</div><div class="tl" style="left:719.50px;top:531.71px;">12:00</div><div class="tl" style="left:795.50px;top:531.71px;">13</div><div class="tl" style="left:872.50px;top:531.71px;">12:00</div><div class="tl" style="left:948.50px;top:531.71px;">14</div><div class="tl" style="left:1024.50px;top:531.71px;">12:00</div><div class="tl" style="left:1100.50px;top:531.71px;">17</div><div class="tl" style="left:1176.50px;top:531.71px;">12:00</div></div>
<div id="h1a" class="t" style="left:6.20px;top:7.02px;font-size:12.5px;font-weight:bold;color:#37afe6;transform:scaleX(0.9038);">xxReDxx</div>
<div id="h1b" class="t" style="left:56.82px;top:7.02px;font-size:12.5px;font-weight:normal;color:#111;transform:scaleX(0.9840);">published on TradingView.com, June 20, 2019 18:57:28 EEST</div>
<div id="h2a" class="t" style="left:5.86px;top:24.02px;font-size:12.5px;font-weight:bold;color:#000;transform:scaleX(0.9409);">FX:GBPAUD, 60</div>
<div id="h2b" class="t" style="left:99.57px;top:24.02px;font-size:12.5px;font-weight:normal;color:#111;transform:scaleX(1.0273);">1.83578</div>
<div id="h2c" class="t" style="left:162.63px;top:24.02px;font-size:12.5px;font-weight:normal;color:#111;transform:scaleX(0.9743);">&minus;0.00011 (&minus;0.01%)</div>
<div id="h2o" class="t" style="left:273.80px;top:24.02px;font-size:12.5px;font-weight:bold;color:#000;transform:scaleX(0.9231);">O:</div>
<div id="h2h" class="t" style="left:336.20px;top:24.02px;font-size:12.5px;font-weight:bold;color:#000;transform:scaleX(1.1000);">H:</div>
<div id="h2l" class="t" style="left:400.61px;top:24.02px;font-size:12.5px;font-weight:bold;color:#000;transform:scaleX(0.8900);">L:</div>
<div id="h2cc" class="t" style="left:462.30px;top:24.02px;font-size:12.5px;font-weight:bold;color:#000;transform:scaleX(0.8333);">C:</div>
<div id="h2ov" class="t" style="left:286.49px;top:24.02px;font-size:12.5px;font-weight:normal;color:#b51e1e;transform:scaleX(1.0114);">1.83555</div>
<div id="h2hv" class="t" style="left:350.48px;top:24.02px;font-size:12.5px;font-weight:normal;color:#b51e1e;transform:scaleX(1.0159);">1.83644</div>
<div id="h2lv" class="t" style="left:411.49px;top:24.02px;font-size:12.5px;font-weight:normal;color:#b51e1e;transform:scaleX(1.0114);">1.83423</div>
<div id="h2cv" class="t" style="left:473.58px;top:24.02px;font-size:12.5px;font-weight:normal;color:#b51e1e;transform:scaleX(1.0205);">1.83578</div>
<div id="title" class="t" style="left:14.41px;top:55.12px;font-size:12.5px;font-weight:bold;color:#555;transform:scaleX(0.9885);">British Pound / Australian Dollar, 60, FXCM</div>
<div id="a20" class="t" style="left:736.70px;top:104.02px;font-size:21px;font-weight:normal;color:#6b6b6b;transform:scaleX(1.1068);">$20 profit</div>
<div id="a10" class="t" style="left:851.80px;top:262.52px;font-size:21px;font-weight:normal;color:#6b6b6b;transform:scaleX(1.0811);">$10 risk</div>
<div id="f1" class="t" style="left:6.40px;top:562.27px;font-size:13.5px;font-weight:normal;color:#111;transform:scaleX(0.9600);">Created with</div>
<div id="f2" class="t" style="left:106.00px;top:562.27px;font-size:13.5px;font-weight:normal;color:#3aade0;transform:scaleX(0.9333);">TradingView</div>
<div id="p0" class="t" style="left:1219.58px;top:63.41px;font-size:10.5px;font-weight:normal;color:#555;transform:scaleX(1.0216);">1.84000</div>
<div id="p1" class="t" style="left:1219.58px;top:98.41px;font-size:10.5px;font-weight:normal;color:#555;transform:scaleX(1.0216);">1.83800</div>
<div id="p2" class="t" style="left:1219.58px;top:132.41px;font-size:10.5px;font-weight:normal;color:#555;transform:scaleX(1.0216);">1.83600</div>
<div id="p3" class="t" style="left:1219.58px;top:166.41px;font-size:10.5px;font-weight:normal;color:#222;transform:scaleX(1.0216);">1.83400</div>
<div id="p4" class="t" style="left:1219.58px;top:202.41px;font-size:10.5px;font-weight:normal;color:#555;transform:scaleX(1.0216);">1.83200</div>
<div id="p5" class="t" style="left:1219.58px;top:237.41px;font-size:10.5px;font-weight:normal;color:#555;transform:scaleX(1.0216);">1.83000</div>
<div id="p6" class="t" style="left:1219.58px;top:271.41px;font-size:10.5px;font-weight:normal;color:#555;transform:scaleX(1.0216);">1.82800</div>
<div id="p7" class="t" style="left:1219.58px;top:306.41px;font-size:10.5px;font-weight:normal;color:#555;transform:scaleX(1.0216);">1.82600</div>
<div id="p8" class="t" style="left:1219.58px;top:341.41px;font-size:10.5px;font-weight:normal;color:#555;transform:scaleX(1.0216);">1.82400</div>
<div id="p9" class="t" style="left:1219.58px;top:376.41px;font-size:10.5px;font-weight:normal;color:#555;transform:scaleX(1.0216);">1.82200</div>
<div id="p10" class="t" style="left:1219.58px;top:411.41px;font-size:10.5px;font-weight:normal;color:#555;transform:scaleX(1.0216);">1.82000</div>
<div id="p11" class="t" style="left:1219.58px;top:446.41px;font-size:10.5px;font-weight:normal;color:#555;transform:scaleX(1.0216);">1.81800</div>
<div id="p12" class="t" style="left:1219.58px;top:481.41px;font-size:10.5px;font-weight:normal;color:#555;transform:scaleX(1.0216);">1.81600</div>
<div id="p13" class="t" style="left:1219.58px;top:509.41px;font-size:10.5px;font-weight:normal;color:#555;transform:scaleX(1.0216);">1.81440</div>
<div id="cd" class="t" style="left:1230.90px;top:184.01px;font-size:10.5px;font-weight:normal;color:#222;transform:scaleX(1.0192);">02:33</div>
</body></html>
